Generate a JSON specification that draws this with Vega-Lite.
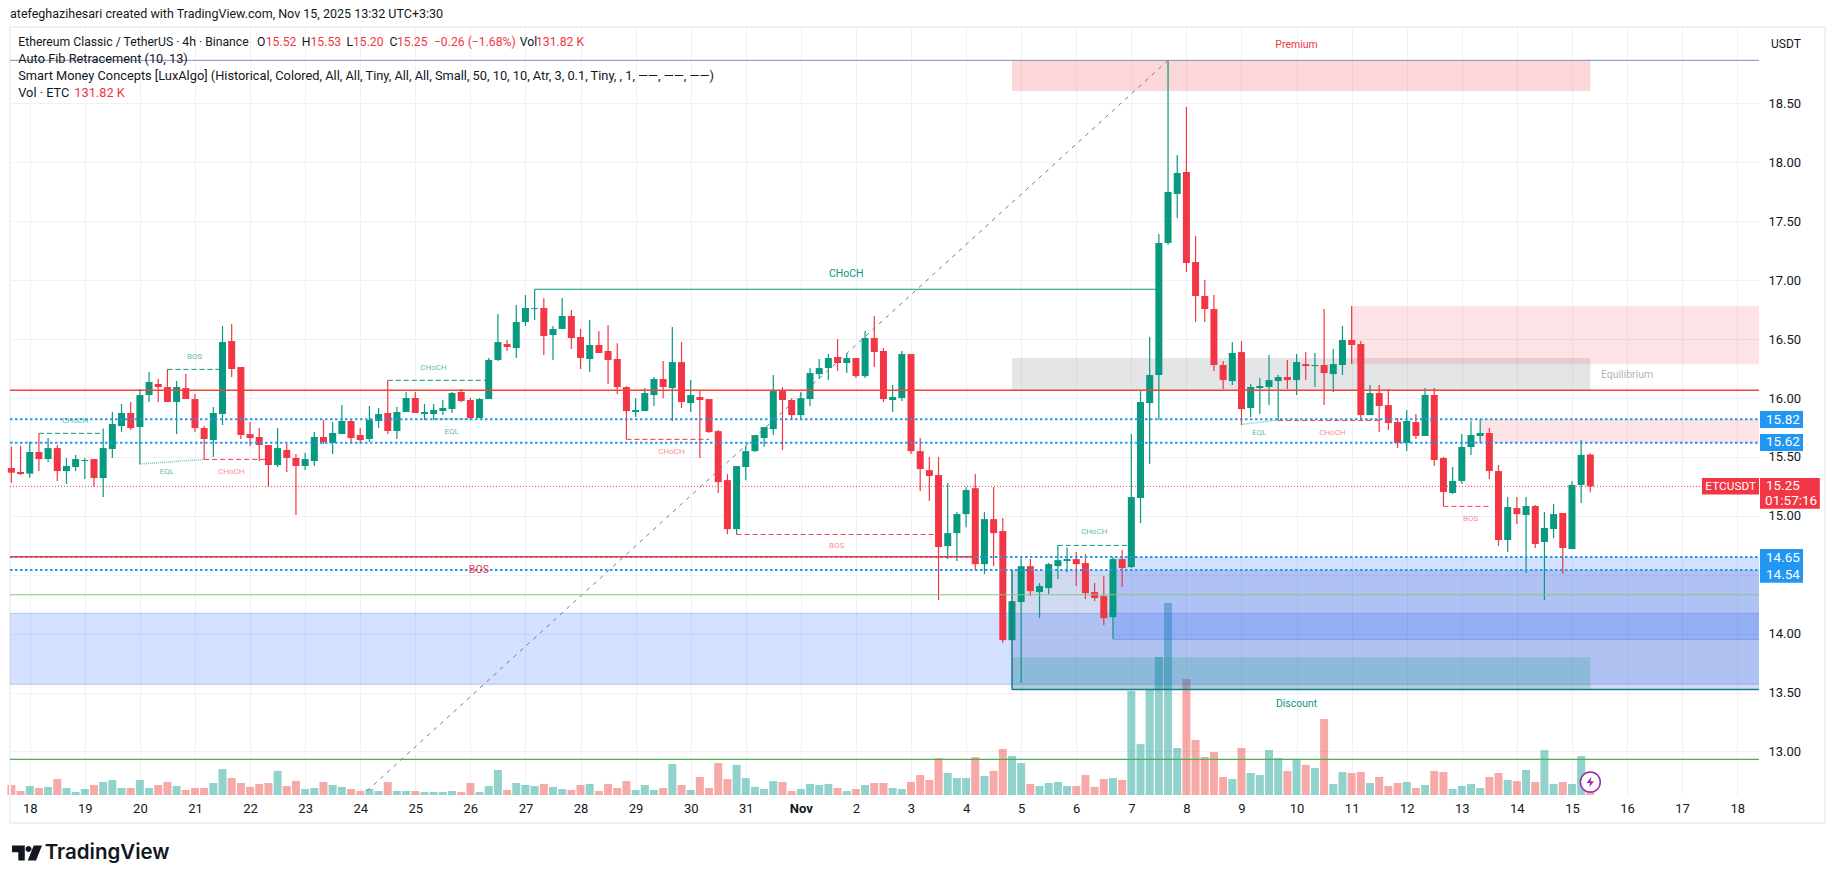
{"$schema":"https://vega.github.io/schema/vega-lite/v6.json",
"autosize":"none","width":1749,"height":768,
"padding":{"left":10,"top":27,"right":76,"bottom":88},
"background":"white",
"title":{"text":"atefeghazihesari created with TradingView.com, Nov 15, 2025 13:32 UTC+3:30","anchor":"start","frame":"group","font":"Roboto","fontSize":12.5,"fontWeight":"normal","color":"#131722","offset":6},
"config":{"view":{"stroke":null},"text":{"font":"Roboto"}},
"datasets":{
"candles":[
{"t":"2025-10-17T16:00Z","o":15.406,"h":15.587,"l":15.281,"c":15.366,"v":73},
{"t":"2025-10-17T20:00Z","o":15.372,"h":15.595,"l":15.346,"c":15.355,"v":29},
{"t":"2025-10-18T00:00Z","o":15.358,"h":15.629,"l":15.324,"c":15.542,"v":66},
{"t":"2025-10-18T04:00Z","o":15.542,"h":15.7,"l":15.38,"c":15.482,"v":51},
{"t":"2025-10-18T08:00Z","o":15.482,"h":15.66,"l":15.457,"c":15.575,"v":59},
{"t":"2025-10-18T12:00Z","o":15.575,"h":15.601,"l":15.295,"c":15.38,"v":117},
{"t":"2025-10-18T16:00Z","o":15.38,"h":15.491,"l":15.27,"c":15.423,"v":51},
{"t":"2025-10-18T20:00Z","o":15.414,"h":15.516,"l":15.38,"c":15.482,"v":22},
{"t":"2025-10-19T00:00Z","o":15.465,"h":15.491,"l":15.312,"c":15.474,"v":44},
{"t":"2025-10-19T04:00Z","o":15.482,"h":15.482,"l":15.244,"c":15.321,"v":73},
{"t":"2025-10-19T08:00Z","o":15.321,"h":15.742,"l":15.16,"c":15.575,"v":95},
{"t":"2025-10-19T12:00Z","o":15.567,"h":15.881,"l":15.491,"c":15.779,"v":110},
{"t":"2025-10-19T16:00Z","o":15.762,"h":15.949,"l":15.711,"c":15.873,"v":51},
{"t":"2025-10-19T20:00Z","o":15.873,"h":15.966,"l":15.728,"c":15.745,"v":51},
{"t":"2025-10-20T00:00Z","o":15.754,"h":16.076,"l":15.437,"c":16.025,"v":110},
{"t":"2025-10-20T04:00Z","o":16.025,"h":16.221,"l":15.966,"c":16.136,"v":51},
{"t":"2025-10-20T08:00Z","o":16.119,"h":16.161,"l":15.966,"c":16.093,"v":73},
{"t":"2025-10-20T12:00Z","o":16.093,"h":16.243,"l":15.966,"c":15.966,"v":95},
{"t":"2025-10-20T16:00Z","o":15.966,"h":16.144,"l":15.694,"c":16.093,"v":66},
{"t":"2025-10-20T20:00Z","o":16.085,"h":16.204,"l":15.991,"c":15.991,"v":37},
{"t":"2025-10-21T00:00Z","o":15.991,"h":16.034,"l":15.711,"c":15.745,"v":51},
{"t":"2025-10-21T04:00Z","o":15.745,"h":15.762,"l":15.479,"c":15.652,"v":51},
{"t":"2025-10-21T08:00Z","o":15.643,"h":15.924,"l":15.499,"c":15.873,"v":88},
{"t":"2025-10-21T12:00Z","o":15.864,"h":16.611,"l":15.771,"c":16.475,"v":190},
{"t":"2025-10-21T16:00Z","o":16.484,"h":16.628,"l":16.178,"c":16.246,"v":124},
{"t":"2025-10-21T20:00Z","o":16.263,"h":16.263,"l":15.652,"c":15.686,"v":88},
{"t":"2025-10-22T00:00Z","o":15.694,"h":15.796,"l":15.592,"c":15.66,"v":59},
{"t":"2025-10-22T04:00Z","o":15.669,"h":15.745,"l":15.465,"c":15.601,"v":81},
{"t":"2025-10-22T08:00Z","o":15.601,"h":15.601,"l":15.244,"c":15.431,"v":88},
{"t":"2025-10-22T12:00Z","o":15.431,"h":15.745,"l":15.414,"c":15.575,"v":176},
{"t":"2025-10-22T16:00Z","o":15.559,"h":15.609,"l":15.372,"c":15.491,"v":66},
{"t":"2025-10-22T20:00Z","o":15.491,"h":15.525,"l":15.007,"c":15.423,"v":102},
{"t":"2025-10-23T00:00Z","o":15.423,"h":15.533,"l":15.389,"c":15.482,"v":44},
{"t":"2025-10-23T04:00Z","o":15.465,"h":15.711,"l":15.423,"c":15.669,"v":51},
{"t":"2025-10-23T08:00Z","o":15.669,"h":15.813,"l":15.609,"c":15.626,"v":95},
{"t":"2025-10-23T12:00Z","o":15.618,"h":15.796,"l":15.525,"c":15.703,"v":73},
{"t":"2025-10-23T16:00Z","o":15.694,"h":15.941,"l":15.694,"c":15.805,"v":59},
{"t":"2025-10-23T20:00Z","o":15.805,"h":15.813,"l":15.609,"c":15.66,"v":44},
{"t":"2025-10-24T00:00Z","o":15.686,"h":15.745,"l":15.609,"c":15.643,"v":29},
{"t":"2025-10-24T04:00Z","o":15.652,"h":15.932,"l":15.626,"c":15.813,"v":44},
{"t":"2025-10-24T08:00Z","o":15.805,"h":15.915,"l":15.745,"c":15.864,"v":29},
{"t":"2025-10-24T12:00Z","o":15.873,"h":16.15,"l":15.694,"c":15.72,"v":95},
{"t":"2025-10-24T16:00Z","o":15.72,"h":15.924,"l":15.652,"c":15.881,"v":29},
{"t":"2025-10-24T20:00Z","o":15.881,"h":16.051,"l":15.881,"c":16.0,"v":29},
{"t":"2025-10-25T00:00Z","o":16.0,"h":16.051,"l":15.873,"c":15.873,"v":29},
{"t":"2025-10-25T04:00Z","o":15.864,"h":15.949,"l":15.813,"c":15.881,"v":22},
{"t":"2025-10-25T08:00Z","o":15.864,"h":15.949,"l":15.813,"c":15.898,"v":22},
{"t":"2025-10-25T12:00Z","o":15.89,"h":15.983,"l":15.856,"c":15.915,"v":22},
{"t":"2025-10-25T16:00Z","o":15.907,"h":16.051,"l":15.873,"c":16.042,"v":29},
{"t":"2025-10-25T20:00Z","o":16.051,"h":16.076,"l":15.966,"c":15.975,"v":22},
{"t":"2025-10-26T00:00Z","o":15.983,"h":16.0,"l":15.822,"c":15.83,"v":88},
{"t":"2025-10-26T04:00Z","o":15.83,"h":16.0,"l":15.83,"c":15.991,"v":22},
{"t":"2025-10-26T08:00Z","o":15.991,"h":16.34,"l":15.991,"c":16.323,"v":66},
{"t":"2025-10-26T12:00Z","o":16.323,"h":16.713,"l":16.314,"c":16.475,"v":183},
{"t":"2025-10-26T16:00Z","o":16.458,"h":16.492,"l":16.399,"c":16.433,"v":37},
{"t":"2025-10-26T20:00Z","o":16.424,"h":16.79,"l":16.34,"c":16.645,"v":88},
{"t":"2025-10-27T00:00Z","o":16.645,"h":16.874,"l":16.611,"c":16.764,"v":73},
{"t":"2025-10-27T04:00Z","o":16.756,"h":16.925,"l":16.662,"c":16.764,"v":66},
{"t":"2025-10-27T08:00Z","o":16.764,"h":16.846,"l":16.365,"c":16.526,"v":81},
{"t":"2025-10-27T12:00Z","o":16.535,"h":16.611,"l":16.323,"c":16.586,"v":59},
{"t":"2025-10-27T16:00Z","o":16.586,"h":16.849,"l":16.586,"c":16.696,"v":44},
{"t":"2025-10-27T20:00Z","o":16.696,"h":16.747,"l":16.416,"c":16.509,"v":37},
{"t":"2025-10-28T00:00Z","o":16.518,"h":16.586,"l":16.246,"c":16.34,"v":73},
{"t":"2025-10-28T04:00Z","o":16.331,"h":16.662,"l":16.221,"c":16.45,"v":81},
{"t":"2025-10-28T08:00Z","o":16.45,"h":16.569,"l":16.382,"c":16.382,"v":29},
{"t":"2025-10-28T12:00Z","o":16.399,"h":16.62,"l":16.119,"c":16.323,"v":81},
{"t":"2025-10-28T16:00Z","o":16.331,"h":16.464,"l":16.034,"c":16.093,"v":51},
{"t":"2025-10-28T20:00Z","o":16.093,"h":16.101,"l":15.649,"c":15.889,"v":102},
{"t":"2025-10-29T00:00Z","o":15.881,"h":15.999,"l":15.838,"c":15.898,"v":37},
{"t":"2025-10-29T04:00Z","o":15.889,"h":16.084,"l":15.889,"c":16.042,"v":73},
{"t":"2025-10-29T08:00Z","o":16.025,"h":16.178,"l":15.932,"c":16.161,"v":37},
{"t":"2025-10-29T12:00Z","o":16.161,"h":16.314,"l":15.999,"c":16.093,"v":51},
{"t":"2025-10-29T16:00Z","o":16.084,"h":16.602,"l":15.804,"c":16.305,"v":227},
{"t":"2025-10-29T20:00Z","o":16.305,"h":16.475,"l":15.915,"c":15.966,"v":73},
{"t":"2025-10-30T00:00Z","o":15.957,"h":16.152,"l":15.881,"c":16.025,"v":37},
{"t":"2025-10-30T04:00Z","o":16.008,"h":16.065,"l":15.49,"c":15.983,"v":132},
{"t":"2025-10-30T08:00Z","o":15.991,"h":15.991,"l":15.702,"c":15.711,"v":51},
{"t":"2025-10-30T12:00Z","o":15.719,"h":15.728,"l":15.193,"c":15.286,"v":234},
{"t":"2025-10-30T16:00Z","o":15.303,"h":15.354,"l":14.845,"c":14.887,"v":117},
{"t":"2025-10-30T20:00Z","o":14.887,"h":15.422,"l":14.842,"c":15.422,"v":220},
{"t":"2025-10-31T00:00Z","o":15.414,"h":15.6,"l":15.303,"c":15.549,"v":124},
{"t":"2025-10-31T04:00Z","o":15.549,"h":15.685,"l":15.541,"c":15.685,"v":59},
{"t":"2025-10-31T08:00Z","o":15.66,"h":15.753,"l":15.584,"c":15.753,"v":44},
{"t":"2025-10-31T12:00Z","o":15.736,"h":16.195,"l":15.685,"c":16.059,"v":102},
{"t":"2025-10-31T16:00Z","o":16.059,"h":16.093,"l":15.558,"c":15.983,"v":95},
{"t":"2025-10-31T20:00Z","o":15.983,"h":15.999,"l":15.813,"c":15.855,"v":29},
{"t":"2025-11-01T00:00Z","o":15.855,"h":16.05,"l":15.821,"c":15.999,"v":44},
{"t":"2025-11-01T04:00Z","o":15.991,"h":16.254,"l":15.932,"c":16.212,"v":81},
{"t":"2025-11-01T08:00Z","o":16.203,"h":16.331,"l":16.161,"c":16.254,"v":73},
{"t":"2025-11-01T12:00Z","o":16.254,"h":16.373,"l":16.152,"c":16.339,"v":81},
{"t":"2025-11-01T16:00Z","o":16.348,"h":16.5,"l":16.229,"c":16.297,"v":51},
{"t":"2025-11-01T20:00Z","o":16.297,"h":16.382,"l":16.212,"c":16.339,"v":29},
{"t":"2025-11-02T00:00Z","o":16.339,"h":16.339,"l":16.169,"c":16.186,"v":44},
{"t":"2025-11-02T04:00Z","o":16.186,"h":16.568,"l":16.169,"c":16.509,"v":73},
{"t":"2025-11-02T08:00Z","o":16.509,"h":16.696,"l":16.263,"c":16.39,"v":88},
{"t":"2025-11-02T12:00Z","o":16.399,"h":16.424,"l":15.966,"c":15.991,"v":88},
{"t":"2025-11-02T16:00Z","o":15.983,"h":16.11,"l":15.881,"c":16.008,"v":51},
{"t":"2025-11-02T20:00Z","o":16.0,"h":16.399,"l":15.974,"c":16.373,"v":44},
{"t":"2025-11-03T00:00Z","o":16.373,"h":16.373,"l":15.524,"c":15.549,"v":95},
{"t":"2025-11-03T04:00Z","o":15.549,"h":15.66,"l":15.21,"c":15.397,"v":146},
{"t":"2025-11-03T08:00Z","o":15.388,"h":15.499,"l":15.125,"c":15.338,"v":110},
{"t":"2025-11-03T12:00Z","o":15.346,"h":15.499,"l":14.285,"c":14.735,"v":271},
{"t":"2025-11-03T16:00Z","o":14.743,"h":15.278,"l":14.633,"c":14.853,"v":161},
{"t":"2025-11-03T20:00Z","o":14.853,"h":15.032,"l":14.616,"c":15.015,"v":124},
{"t":"2025-11-04T00:00Z","o":15.015,"h":15.244,"l":14.904,"c":15.219,"v":124},
{"t":"2025-11-04T04:00Z","o":15.235,"h":15.354,"l":14.539,"c":14.59,"v":278},
{"t":"2025-11-04T08:00Z","o":14.59,"h":15.032,"l":14.505,"c":14.972,"v":139},
{"t":"2025-11-04T12:00Z","o":14.972,"h":15.244,"l":14.573,"c":14.853,"v":176},
{"t":"2025-11-04T16:00Z","o":14.871,"h":14.981,"l":13.923,"c":13.945,"v":337},
{"t":"2025-11-04T20:00Z","o":13.945,"h":14.276,"l":13.945,"c":14.276,"v":285},
{"t":"2025-11-05T00:00Z","o":14.268,"h":14.638,"l":13.583,"c":14.573,"v":234},
{"t":"2025-11-05T04:00Z","o":14.573,"h":14.633,"l":14.319,"c":14.361,"v":81},
{"t":"2025-11-05T08:00Z","o":14.353,"h":14.429,"l":14.132,"c":14.404,"v":66},
{"t":"2025-11-05T12:00Z","o":14.387,"h":14.599,"l":14.336,"c":14.59,"v":88},
{"t":"2025-11-05T16:00Z","o":14.573,"h":14.752,"l":14.463,"c":14.624,"v":95},
{"t":"2025-11-05T20:00Z","o":14.616,"h":14.732,"l":14.522,"c":14.633,"v":66},
{"t":"2025-11-06T00:00Z","o":14.633,"h":14.692,"l":14.404,"c":14.59,"v":66},
{"t":"2025-11-06T04:00Z","o":14.599,"h":14.675,"l":14.293,"c":14.344,"v":146},
{"t":"2025-11-06T08:00Z","o":14.353,"h":14.429,"l":14.276,"c":14.302,"v":59},
{"t":"2025-11-06T12:00Z","o":14.319,"h":14.488,"l":14.072,"c":14.132,"v":117},
{"t":"2025-11-06T16:00Z","o":14.14,"h":14.65,"l":13.954,"c":14.633,"v":124},
{"t":"2025-11-06T20:00Z","o":14.633,"h":14.709,"l":14.395,"c":14.556,"v":110},
{"t":"2025-11-07T00:00Z","o":14.565,"h":15.694,"l":14.557,"c":15.159,"v":761},
{"t":"2025-11-07T04:00Z","o":15.151,"h":16.059,"l":14.938,"c":15.966,"v":373},
{"t":"2025-11-07T08:00Z","o":15.957,"h":16.517,"l":15.439,"c":16.195,"v":769},
{"t":"2025-11-07T12:00Z","o":16.195,"h":17.392,"l":15.813,"c":17.316,"v":1010},
{"t":"2025-11-07T16:00Z","o":17.316,"h":18.866,"l":17.3,"c":17.749,"v":1405},
{"t":"2025-11-07T20:00Z","o":17.732,"h":18.063,"l":17.528,"c":17.91,"v":344},
{"t":"2025-11-08T00:00Z","o":17.918,"h":18.47,"l":17.07,"c":17.146,"v":849},
{"t":"2025-11-08T04:00Z","o":17.154,"h":17.375,"l":16.645,"c":16.866,"v":403},
{"t":"2025-11-08T08:00Z","o":16.866,"h":17.001,"l":16.645,"c":16.755,"v":278},
{"t":"2025-11-08T12:00Z","o":16.755,"h":16.874,"l":16.229,"c":16.28,"v":315},
{"t":"2025-11-08T16:00Z","o":16.28,"h":16.314,"l":16.076,"c":16.152,"v":132},
{"t":"2025-11-08T20:00Z","o":16.144,"h":16.475,"l":16.11,"c":16.382,"v":117},
{"t":"2025-11-09T00:00Z","o":16.39,"h":16.483,"l":15.77,"c":15.906,"v":344},
{"t":"2025-11-09T04:00Z","o":15.915,"h":16.118,"l":15.838,"c":16.093,"v":161},
{"t":"2025-11-09T08:00Z","o":16.085,"h":16.169,"l":15.864,"c":16.102,"v":146},
{"t":"2025-11-09T12:00Z","o":16.093,"h":16.365,"l":15.94,"c":16.152,"v":329},
{"t":"2025-11-09T16:00Z","o":16.144,"h":16.195,"l":15.813,"c":16.178,"v":271},
{"t":"2025-11-09T20:00Z","o":16.178,"h":16.322,"l":16.076,"c":16.152,"v":176},
{"t":"2025-11-10T00:00Z","o":16.152,"h":16.373,"l":16.025,"c":16.305,"v":264},
{"t":"2025-11-10T04:00Z","o":16.288,"h":16.39,"l":16.152,"c":16.271,"v":220},
{"t":"2025-11-10T08:00Z","o":16.271,"h":16.382,"l":16.093,"c":16.28,"v":198},
{"t":"2025-11-10T12:00Z","o":16.28,"h":16.755,"l":15.94,"c":16.212,"v":556},
{"t":"2025-11-10T16:00Z","o":16.203,"h":16.416,"l":16.05,"c":16.288,"v":81},
{"t":"2025-11-10T20:00Z","o":16.28,"h":16.611,"l":16.195,"c":16.492,"v":168},
{"t":"2025-11-11T00:00Z","o":16.492,"h":16.781,"l":16.288,"c":16.45,"v":161},
{"t":"2025-11-11T04:00Z","o":16.458,"h":16.483,"l":15.813,"c":15.855,"v":168},
{"t":"2025-11-11T08:00Z","o":15.855,"h":16.11,"l":15.855,"c":16.042,"v":88},
{"t":"2025-11-11T12:00Z","o":16.042,"h":16.11,"l":15.711,"c":15.932,"v":132},
{"t":"2025-11-11T16:00Z","o":15.94,"h":16.076,"l":15.728,"c":15.787,"v":66},
{"t":"2025-11-11T20:00Z","o":15.796,"h":15.83,"l":15.576,"c":15.618,"v":88},
{"t":"2025-11-12T00:00Z","o":15.618,"h":15.898,"l":15.55,"c":15.805,"v":95},
{"t":"2025-11-12T04:00Z","o":15.796,"h":15.864,"l":15.652,"c":15.678,"v":51},
{"t":"2025-11-12T08:00Z","o":15.678,"h":16.085,"l":15.678,"c":16.026,"v":73},
{"t":"2025-11-12T12:00Z","o":16.026,"h":16.085,"l":15.423,"c":15.474,"v":176},
{"t":"2025-11-12T16:00Z","o":15.491,"h":15.5,"l":15.083,"c":15.202,"v":168},
{"t":"2025-11-12T20:00Z","o":15.194,"h":15.414,"l":15.185,"c":15.296,"v":44},
{"t":"2025-11-13T00:00Z","o":15.296,"h":15.695,"l":15.27,"c":15.584,"v":66},
{"t":"2025-11-13T04:00Z","o":15.584,"h":15.805,"l":15.516,"c":15.686,"v":81},
{"t":"2025-11-13T08:00Z","o":15.678,"h":15.822,"l":15.618,"c":15.703,"v":51},
{"t":"2025-11-13T12:00Z","o":15.703,"h":15.746,"l":15.313,"c":15.38,"v":132},
{"t":"2025-11-13T16:00Z","o":15.38,"h":15.431,"l":14.744,"c":14.795,"v":161},
{"t":"2025-11-13T20:00Z","o":14.795,"h":15.16,"l":14.693,"c":15.075,"v":110},
{"t":"2025-11-14T00:00Z","o":15.066,"h":15.16,"l":14.931,"c":15.015,"v":102},
{"t":"2025-11-14T04:00Z","o":15.007,"h":15.16,"l":14.515,"c":15.083,"v":183},
{"t":"2025-11-14T08:00Z","o":15.083,"h":15.092,"l":14.727,"c":14.761,"v":95},
{"t":"2025-11-14T12:00Z","o":14.778,"h":15.032,"l":14.285,"c":14.897,"v":329},
{"t":"2025-11-14T16:00Z","o":14.888,"h":15.1,"l":14.812,"c":15.015,"v":81},
{"t":"2025-11-14T20:00Z","o":15.024,"h":15.024,"l":14.506,"c":14.727,"v":95},
{"t":"2025-11-15T00:00Z","o":14.718,"h":15.296,"l":14.718,"c":15.262,"v":81},
{"t":"2025-11-15T04:00Z","o":15.262,"h":15.644,"l":15.109,"c":15.517,"v":285},
{"t":"2025-11-15T08:00Z","o":15.52,"h":15.53,"l":15.2,"c":15.25,"v":131.82}
],
"zones":[
{"t":"2025-10-17T15:24Z","t2":"2025-11-18T09:30Z","p":14.172,"p2":13.57,"zone":"demand"},
{"t":"2025-11-04T20:00Z","t2":"2025-11-18T09:30Z","p":14.54,"p2":13.526,"zone":"swing box"},
{"t":"2025-11-06T16:00Z","t2":"2025-11-18T09:30Z","p":14.65,"p2":13.951,"zone":"demand"},
{"t":"2025-11-04T20:00Z","t2":"2025-11-15T08:00Z","p":13.8,"p2":13.526,"zone":"discount"},
{"t":"2025-11-04T20:00Z","t2":"2025-11-15T08:00Z","p":16.339,"p2":16.065,"zone":"equilibrium"},
{"t":"2025-11-04T20:00Z","t2":"2025-11-15T08:00Z","p":18.866,"p2":18.606,"zone":"premium"},
{"t":"2025-11-11T00:00Z","t2":"2025-11-18T09:30Z","p":16.781,"p2":16.286,"zone":"supply"},
{"t":"2025-11-13T08:00Z","t2":"2025-11-18T09:30Z","p":15.82,"p2":15.62,"zone":"supply"},
{"t":"2025-11-18T09:56Z","t2":"2025-11-19T04:41Z","p":15.89,"p2":15.746,"zone":"tag blue"},
{"t":"2025-11-18T09:56Z","t2":"2025-11-19T04:41Z","p":15.695,"p2":15.55,"zone":"tag blue"},
{"t":"2025-11-18T09:56Z","t2":"2025-11-19T04:41Z","p":14.718,"p2":14.433,"zone":"tag blue"},
{"t":"2025-11-18T09:56Z","t2":"2025-11-19T12:00Z","p":15.321,"p2":15.061,"zone":"tag red"},
{"t":"2025-11-17T08:38Z","t2":"2025-11-18T09:30Z","p":15.321,"p2":15.18,"zone":"tag red"}
],
"segments":[
{"t":"2025-10-24T03:00Z","t2":"2025-11-07T16:00Z","p":12.666,"p2":18.866,"line":"fib diagonal"},
{"t":"2025-10-17T15:24Z","t2":"2025-11-18T09:30Z","p":14.172,"p2":14.172,"line":"zone edge"},
{"t":"2025-10-17T15:24Z","t2":"2025-11-18T09:30Z","p":13.57,"p2":13.57,"line":"zone edge"},
{"t":"2025-11-06T16:00Z","t2":"2025-11-18T09:30Z","p":13.951,"p2":13.951,"line":"zone edge"},
{"t":"2025-11-04T20:00Z","t2":"2025-11-18T09:30Z","p":13.526,"p2":13.526,"line":"box edge"},
{"t":"2025-11-04T20:00Z","t2":"2025-11-04T20:00Z","p":14.54,"p2":13.526,"line":"box edge"},
{"t":"2025-10-17T15:24Z","t2":"2025-11-18T09:30Z","p":18.866,"p2":18.866,"line":"fib top"},
{"t":"2025-10-17T15:24Z","t2":"2025-11-18T09:30Z","p":16.065,"p2":16.065,"line":"fib mid"},
{"t":"2025-10-17T15:24Z","t2":"2025-11-18T09:30Z","p":14.33,"p2":14.33,"line":"fib low"},
{"t":"2025-10-17T15:24Z","t2":"2025-11-18T09:30Z","p":12.933,"p2":12.933,"line":"fib base"},
{"t":"2025-10-17T15:24Z","t2":"2025-11-18T09:30Z","p":15.82,"p2":15.82,"line":"level"},
{"t":"2025-10-17T15:24Z","t2":"2025-11-18T09:30Z","p":15.62,"p2":15.62,"line":"level"},
{"t":"2025-10-17T15:24Z","t2":"2025-11-18T09:30Z","p":14.65,"p2":14.65,"line":"level"},
{"t":"2025-10-17T15:24Z","t2":"2025-11-18T09:30Z","p":14.54,"p2":14.54,"line":"level"},
{"t":"2025-10-17T15:24Z","t2":"2025-11-17T08:38Z","p":15.25,"p2":15.25,"line":"last price"},
{"t":"2025-10-17T15:24Z","t2":"2025-11-04T04:00Z","p":14.653,"p2":14.653,"line":"swing down"},
{"t":"2025-10-27T04:00Z","t2":"2025-11-07T12:00Z","p":16.923,"p2":16.923,"line":"swing up"},
{"t":"2025-10-18T04:00Z","t2":"2025-10-19T08:00Z","p":15.7,"p2":15.7,"line":"internal up"},
{"t":"2025-10-20T12:00Z","t2":"2025-10-21T12:00Z","p":16.243,"p2":16.243,"line":"internal up"},
{"t":"2025-10-24T12:00Z","t2":"2025-10-26T08:00Z","p":16.15,"p2":16.15,"line":"internal up"},
{"t":"2025-11-05T16:00Z","t2":"2025-11-07T00:00Z","p":14.749,"p2":14.749,"line":"internal up"},
{"t":"2025-10-21T04:00Z","t2":"2025-10-22T08:00Z","p":15.479,"p2":15.479,"line":"internal down"},
{"t":"2025-10-28T20:00Z","t2":"2025-10-30T08:00Z","p":15.649,"p2":15.649,"line":"internal down"},
{"t":"2025-10-30T20:00Z","t2":"2025-11-03T12:00Z","p":14.842,"p2":14.842,"line":"internal down"},
{"t":"2025-11-09T16:00Z","t2":"2025-11-11T12:00Z","p":15.81,"p2":15.81,"line":"internal down"},
{"t":"2025-11-12T16:00Z","t2":"2025-11-13T12:00Z","p":15.08,"p2":15.08,"line":"internal down"},
{"t":"2025-10-20T00:00Z","t2":"2025-10-21T04:00Z","p":15.44,"p2":15.479,"line":"equal"},
{"t":"2025-10-25T08:00Z","t2":"2025-10-26T00:00Z","p":15.822,"p2":15.822,"line":"equal"},
{"t":"2025-11-09T00:00Z","t2":"2025-11-09T16:00Z","p":15.776,"p2":15.813,"line":"equal"}
],
"notes":[
{"t":"2025-10-18T19:48Z","p":15.808,"text":"CHoCH","note":"small up"},
{"t":"2025-10-20T23:48Z","p":16.345,"text":"BOS","note":"small up"},
{"t":"2025-10-25T07:54Z","p":16.258,"text":"CHoCH","note":"small up"},
{"t":"2025-10-20T11:48Z","p":15.375,"text":"EQL","note":"small up"},
{"t":"2025-10-25T15:48Z","p":15.714,"text":"EQL","note":"small up"},
{"t":"2025-11-06T07:48Z","p":14.859,"text":"CHoCH","note":"small up"},
{"t":"2025-11-09T07:48Z","p":15.706,"text":"EQL","note":"small up"},
{"t":"2025-10-21T15:48Z","p":15.375,"text":"CHoCH","note":"small down"},
{"t":"2025-10-29T15:36Z","p":15.544,"text":"CHoCH","note":"small down"},
{"t":"2025-11-01T15:36Z","p":14.74,"text":"BOS","note":"small down"},
{"t":"2025-11-10T15:36Z","p":15.706,"text":"CHoCH","note":"small down"},
{"t":"2025-11-13T03:48Z","p":14.976,"text":"BOS","note":"small down"},
{"t":"2025-10-26T03:42Z","p":14.54,"text":"BOS","note":"big down"},
{"t":"2025-11-10T00:00Z","p":18.999,"text":"Premium","note":"big down"},
{"t":"2025-11-01T19:48Z","p":17.05,"text":"CHoCH","note":"big up"},
{"t":"2025-11-10T00:00Z","p":13.405,"text":"Discount","note":"big up"},
{"t":"2025-11-16T00:00Z","p":16.198,"text":"Equilibrium","note":"faint"},
{"t":"2025-11-18T19:55Z","p":15.816,"text":"15.82","note":"tag"},
{"t":"2025-11-18T19:55Z","p":15.624,"text":"15.62","note":"tag"},
{"t":"2025-11-18T19:55Z","p":14.645,"text":"14.65","note":"tag"},
{"t":"2025-11-18T19:55Z","p":14.501,"text":"14.54","note":"tag"},
{"t":"2025-11-18T19:55Z","p":15.25,"text":"15.25","note":"tag"},
{"t":"2025-11-18T23:30Z","p":15.129,"text":"01:57:16","note":"tag"},
{"t":"2025-11-17T21:10Z","p":15.25,"text":"ETCUSDT","note":"symbol"},
{"t":"2025-11-18T21:15Z","p":19.005,"text":"USDT","note":"ink"}
],
"header":[
{"t":"2025-10-17T19:00Z","p":19.025,"text":"Ethereum Classic / TetherUS · 4h · Binance","tone":"ink"},
{"t":"2025-10-22T03:00Z","p":19.025,"text":"O","tone":"ink"},
{"t":"2025-10-22T06:50Z","p":19.025,"text":"15.52","tone":"down"},
{"t":"2025-10-22T22:30Z","p":19.025,"text":"H","tone":"ink"},
{"t":"2025-10-23T02:20Z","p":19.025,"text":"15.53","tone":"down"},
{"t":"2025-10-23T18:00Z","p":19.025,"text":"L","tone":"ink"},
{"t":"2025-10-23T20:50Z","p":19.025,"text":"15.20","tone":"down"},
{"t":"2025-10-24T12:48Z","p":19.025,"text":"C","tone":"ink"},
{"t":"2025-10-24T16:00Z","p":19.025,"text":"15.25","tone":"down"},
{"t":"2025-10-25T08:06Z","p":19.025,"text":"−0.26 (−1.68%)","tone":"down"},
{"t":"2025-10-26T21:30Z","p":19.025,"text":"Vol","tone":"ink"},
{"t":"2025-10-27T04:36Z","p":19.025,"text":"131.82 K","tone":"down"},
{"t":"2025-10-17T19:00Z","p":18.88,"text":"Auto Fib Retracement (10, 13)","tone":"ink"},
{"t":"2025-10-17T19:00Z","p":18.736,"text":"Smart Money Concepts [LuxAlgo] (Historical, Colored, All, All, Tiny, All, All, Small, 50, 10, 10, Atr, 3, 0.1, Tiny, , 1, ——, ——, ——)","tone":"ink"},
{"t":"2025-10-17T19:00Z","p":18.592,"text":"Vol · ETC","tone":"ink"},
{"t":"2025-10-18T19:24Z","p":18.592,"text":"131.82 K","tone":"down"}
]
},
"encoding":{"x":{"field":"t","type":"temporal","title":null,
"scale":{"type":"utc","padding":0,"domain":["2025-10-17T15:24:00Z","2025-11-18T09:30:00Z"]},
"axis":{"tickCount":{"interval":"day","step":1},"labelExpr":"utcdate(datum.value)==1 ? 'Nov' : utcdate(datum.value)","labelOverlap":false,"labelFlush":false,"grid":true,"gridColor":"#F0F1F4","domain":false,"ticks":false,"labelPadding":7,"labelFont":"Roboto","labelFontSize":13,"labelColor":"#131722","labelFontWeight":{"condition":{"test":"utcdate(datum.value)==1","value":700},"value":400}}}},
"resolve":{"scale":{"y":"independent"}},
"layer":[
{"data":{"name":"candles"},
 "mark":{"type":"bar","size":8,"opacity":0.5},
 "encoding":{"y":{"field":"v","type":"quantitative","scale":{"domain":[0,5622]},"axis":null},
 "color":{"condition":{"test":"datum.c>=datum.o","value":"#26A69A"},"value":"#EF5350"}}},
{"encoding":{"y":{"field":"p","type":"quantitative","title":null,
 "scale":{"domain":[12.6305,19.149]},
 "axis":{"orient":"right","values":[13,13.5,14,14.5,15,15.5,16,16.5,17,17.5,18,18.5],"labelExpr":"datum.value==14.5 ? '' : format(datum.value,'.2f')","grid":true,"gridColor":"#F0F1F4","domain":false,"ticks":false,"labelPadding":9,"labelFont":"Roboto","labelFontSize":13,"labelColor":"#131722","labelOverlap":false}}},
 "layer":[
 {"data":{"values":[{"t":"2025-10-17T15:24Z","t2":"2025-11-19T14:18Z","p":19.149,"p2":12.392}]},
  "mark":{"type":"rect","filled":false,"stroke":"#F0F1F3","strokeWidth":2},
  "encoding":{"x2":{"field":"t2"},"y2":{"field":"p2"}}},
 {"data":{"name":"zones"},
  "mark":{"type":"rect"},
  "encoding":{"x2":{"field":"t2"},"y2":{"field":"p2"},
  "fill":{"field":"zone","type":"nominal","legend":null,
   "scale":{"domain":["demand","swing box","discount","equilibrium","premium","supply","tag blue","tag red"],
   "range":["rgba(41,98,255,0.2)","rgba(50,85,190,0.22)","rgba(8,153,129,0.2)","rgba(120,123,134,0.2)","rgba(242,54,69,0.2)","rgba(242,54,69,0.14)","#2196F3","#F23645"]}}}},
 {"data":{"name":"candles"},
  "mark":{"type":"rule","strokeWidth":1.2},
  "encoding":{"y":{"field":"h","type":"quantitative"},"y2":{"field":"l"},
  "color":{"condition":{"test":"datum.c>=datum.o","value":"#089981"},"value":"#F23645"}}},
 {"data":{"name":"candles"},
  "mark":{"type":"bar","size":7},
  "encoding":{"y":{"field":"o","type":"quantitative"},"y2":{"field":"c"},
  "color":{"condition":{"test":"datum.c>=datum.o","value":"#089981"},"value":"#F23645"}}},
 {"data":{"name":"segments"},
  "mark":{"type":"rule"},
  "encoding":{"x2":{"field":"t2"},"y2":{"field":"p2"},
  "stroke":{"field":"line","type":"nominal","legend":null,
   "scale":{"domain":["fib diagonal","zone edge","box edge","fib top","fib mid","fib low","fib base","level","last price","swing down","swing up","internal up","internal down","equal"],
   "range":["#787B86","rgba(41,98,255,0.3)","#1C7A8A","#7E8FBE","#F44336","#81C784","#4CAF50","#2196F3","#F23645","#F23645","#089981","#089981","#F23645","rgba(8,153,129,0.55)"]}},
  "strokeWidth":{"field":"line","type":"nominal","legend":null,
   "scale":{"type":"ordinal","domain":["fib diagonal","zone edge","box edge","fib top","fib mid","fib low","fib base","level","last price","swing down","swing up","internal up","internal down","equal"],
   "range":[1,1,1.5,1,1.5,1,1.2,2,1,1.5,1.2,1,1,1.5]}},
  "strokeDash":{"field":"line","type":"nominal","legend":null,
   "scale":{"domain":["fib diagonal","zone edge","box edge","fib top","fib mid","fib low","fib base","level","last price","swing down","swing up","internal up","internal down","equal"],
   "range":[[4,5],[1,0],[1,0],[1,0],[1,0],[1,0],[1,0],[2.5,2.5],[1,2],[1,0],[1,0],[5,3],[5,3],[1,1]]}}}},
 {"data":{"name":"notes"},
  "mark":{"type":"text","align":"center","baseline":"middle"},
  "encoding":{"text":{"field":"text"},
  "color":{"field":"note","type":"nominal","legend":null,
   "scale":{"domain":["small up","small down","big up","big down","faint","tag","symbol","ink"],"range":["rgba(8,153,129,0.7)","rgba(242,54,69,0.6)","#089981","#F23645","#B2B5BE","#FFFFFF","#FFFFFF","#131722"]}},
  "size":{"field":"note","type":"nominal","legend":null,
   "scale":{"type":"ordinal","domain":["small up","small down","big up","big down","faint","tag","symbol","ink"],"range":[8,8,10.5,10.5,10.5,13.5,11.8,12]}}}},
 {"data":{"name":"header"},
  "mark":{"type":"text","align":"left","baseline":"middle"},
  "encoding":{"text":{"field":"text"},
  "size":{"condition":{"test":"datum.p>19","value":12.2},"value":12.8},
  "color":{"condition":{"test":"datum.tone=='down'","value":"#F23645"},"value":"#131722"}}},
 {"data":{"values":[{"t":"2025-11-15T08:00Z","p":12.74}]},
  "mark":{"type":"point","shape":"circle","filled":true,"fill":"white","stroke":"#9C27B0","strokeWidth":1.5,"size":400,"opacity":1}},
 {"data":{"values":[{"t":"2025-11-15T08:00Z","p":12.74}]},
  "mark":{"type":"point","shape":"M0.2,-1L-0.7,0.15H-0.05L-0.2,1L0.7,-0.15H0.05Z","filled":true,"fill":"#9C27B0","size":110,"opacity":1}},
 {"data":{"values":[{"t":"2025-10-17T22:49Z","p":12.138}]},
  "mark":{"type":"point","shape":"M-1,-0.5H-0.15V0.5H-0.58V-0.05H-1ZM-0.1,-0.27A0.2,0.2,0,1,0,0.3,-0.27A0.2,0.2,0,1,0,-0.1,-0.27ZM0.45,-0.5H1L0.6,0.5H0.05Z","filled":true,"fill":"#131722","size":900,"opacity":1}},
 {"data":{"values":[{"t":"2025-10-18T06:30Z","p":12.138,"text":"TradingView"}]},
  "mark":{"type":"text","align":"left","baseline":"middle","font":"Inter","fontSize":20.5,"fontWeight":600,"color":"#131722"},
  "encoding":{"text":{"field":"text"}}}
 ]}
]}
